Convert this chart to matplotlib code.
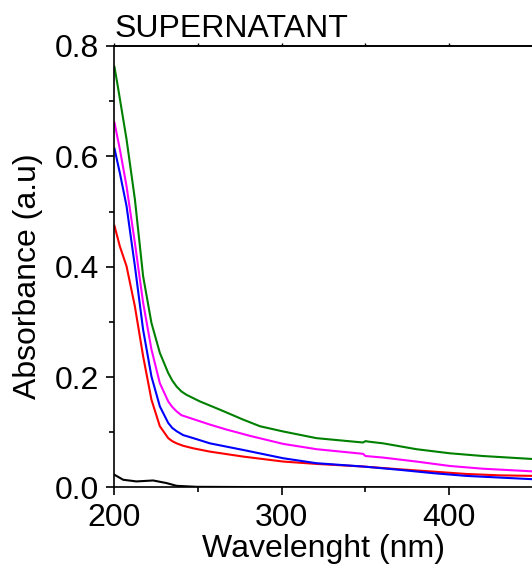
import matplotlib
matplotlib.use('Agg')
import matplotlib.pyplot as plt
from matplotlib.ticker import MultipleLocator, FormatStrFormatter

plt.rcParams['font.family'] = ['Liberation Sans', 'DejaVu Sans']

# absorbance spectra (wavelength nm, absorbance a.u.)
wl_green = [200, 202.2, 207.2, 212.2, 217.1, 222.1, 227.1, 232.1, 234.5, 237.1, 240, 243, 251, 263,
            276.9, 286.9, 300.8, 320.7, 348.5, 350, 352, 360.5, 380.4, 400.3, 420.2, 450]
abs_green = [0.762, 0.723, 0.631, 0.522, 0.383, 0.298, 0.244, 0.2075, 0.194, 0.183, 0.174, 0.168,
             0.156, 0.141, 0.123, 0.111, 0.1015, 0.0894, 0.0815, 0.084, 0.083, 0.080, 0.0694,
             0.062, 0.057, 0.0516]

wl_magenta = [200, 203.2, 207.2, 212.2, 217.1, 222.1, 227.1, 232.1, 234.5, 237.1, 240, 245, 257,
              266.9, 280.9, 300.8, 320.7, 348.5, 350, 360.5, 380.4, 400.3, 420.2, 450]
abs_magenta = [0.661, 0.613, 0.546, 0.443, 0.335, 0.250, 0.189, 0.156, 0.146, 0.138, 0.131, 0.126,
               0.114, 0.105, 0.0936, 0.079, 0.0694, 0.061, 0.057, 0.0542, 0.047, 0.039, 0.034,
               0.0292]

wl_blue = [200, 203.2, 207.2, 212.2, 217.1, 222.1, 227.1, 232.1, 234.5, 237.1, 241, 247, 257,
           276.9, 300.8, 320.7, 348.5, 370.4, 390.3, 410.2, 430.1, 450]
abs_blue = [0.614, 0.570, 0.510, 0.401, 0.286, 0.201, 0.147, 0.117, 0.108, 0.102, 0.095, 0.0895,
            0.080, 0.068, 0.053, 0.044, 0.038, 0.032, 0.026, 0.021, 0.018, 0.015]

wl_red = [200, 203.2, 207.2, 212.2, 217.1, 222.1, 227.1, 232.1, 234.5, 237.1, 241, 247, 257,
          276.9, 300.8, 320.7, 348.5, 370.4, 390.3, 410.2, 430.1, 450]
abs_red = [0.474, 0.437, 0.401, 0.328, 0.238, 0.159, 0.111, 0.0895, 0.084, 0.080, 0.0756, 0.071,
           0.065, 0.056, 0.047, 0.0427, 0.038, 0.033, 0.0288, 0.0245, 0.022, 0.021]

wl_black = [200, 205.2, 213.1, 223.1, 231.1, 237.1, 249, 300, 350, 400, 450]
abs_black = [0.023, 0.014, 0.011, 0.0127, 0.008, 0.003, 0.0012, 0.0005, 0.0003, 0.0, -0.001]

series = [
    (wl_black, abs_black, 'black'),
    (wl_red, abs_red, '#ff0000'),
    (wl_blue, abs_blue, '#0000ff'),
    (wl_magenta, abs_magenta, '#ff00ff'),
    (wl_green, abs_green, '#008000'),
]

fs = 23

fig = plt.figure(figsize=(5.32, 5.75), dpi=100)
ax = fig.add_axes([0.2152, 0.1522, 0.7848, 0.7678])

for x, y, c in series:
    ax.plot(x, y, color=c, linewidth=1.5)

ax.set_xlim(200, 449.5)
ax.set_ylim(0.0, 0.8)

ax.xaxis.set_major_locator(MultipleLocator(100))
ax.xaxis.set_minor_locator(MultipleLocator(50))
ax.yaxis.set_major_locator(MultipleLocator(0.2))
ax.yaxis.set_minor_locator(MultipleLocator(0.1))
ax.yaxis.set_major_formatter(FormatStrFormatter('%.1f'))

ax.tick_params(which='major', direction='out', length=6, width=1.2, labelsize=fs)
ax.tick_params(axis='x', which='major', pad=5)
ax.tick_params(axis='y', which='major', pad=5)
ax.tick_params(which='minor', direction='out', length=3.5, width=1.2)
ax.spines['right'].set_visible(False)
for s in ['left', 'bottom', 'top']:
    ax.spines[s].set_linewidth(1.2)

# small ticks along the top frame
top = ax.secondary_xaxis('top')
top.xaxis.set_major_locator(MultipleLocator(50))
top.tick_params(direction='out', length=2.5, width=1.0, labeltop=False)
top.spines['top'].set_linewidth(1.2)

ax.set_xlabel('Wavelenght (nm)', fontsize=fs, labelpad=1)
ax.set_ylabel('Absorbance (a.u)', fontsize=fs)
ax.yaxis.set_label_coords(-0.171, 0.479)
ax.text(0.0, 1.0204, 'SUPERNATANT', transform=ax.transAxes, fontsize=fs,
        ha='left', va='baseline')

fig.savefig('out.png', dpi=100)
